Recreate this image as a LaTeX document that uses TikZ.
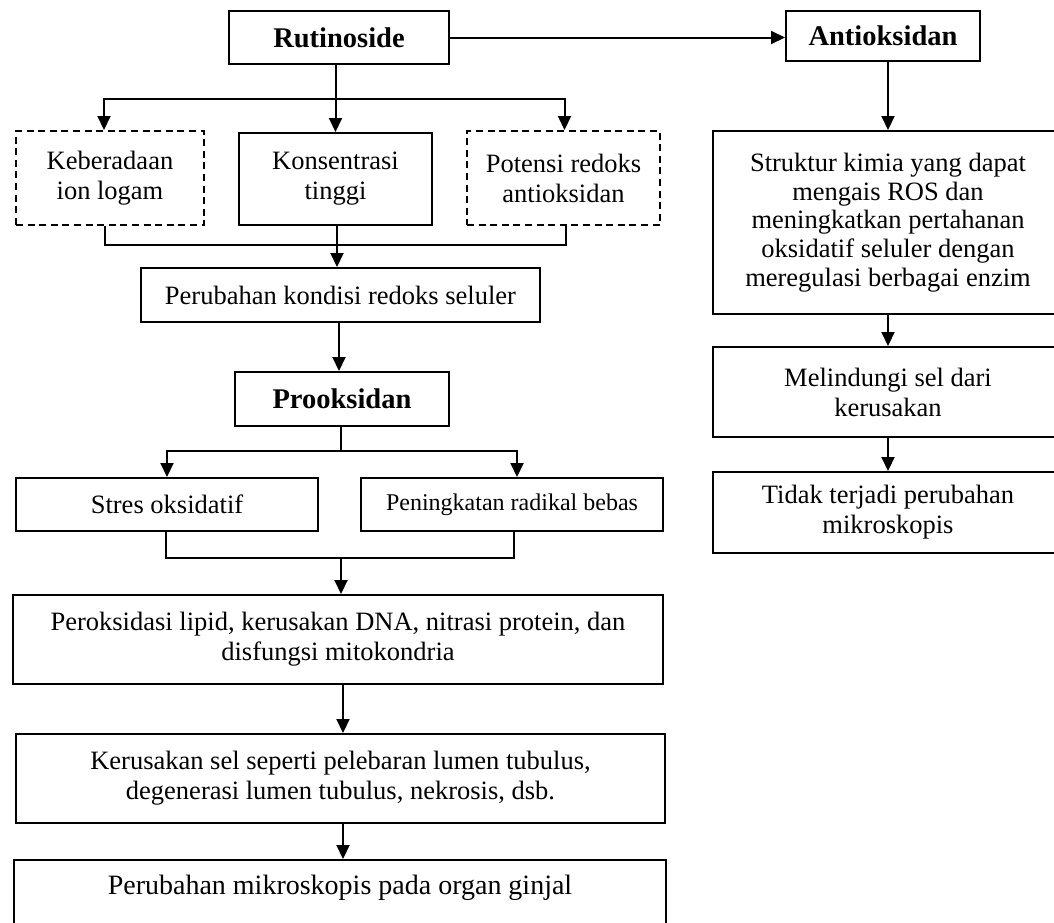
\documentclass[tikz,border=0pt]{standalone}
\usepackage{fontspec}
\setmainfont{Liberation Serif}
\usetikzlibrary{arrows.meta}
\begin{document}
\begin{tikzpicture}[x=0.5pt,y=-0.5pt,line width=1pt,
  box/.style={draw=black,fill=white,inner sep=0pt,align=center,
    font=\fontsize{13.25}{15}\selectfont},
  tbox/.style={box,font=\fontsize{14.25}{16}\selectfont\bfseries},
  dbox/.style={box,dash pattern=on 3.5pt off 2.3pt},
  arr/.style={-{Triangle[length=7pt,width=6.5pt]}}]
\useasboundingbox (0,0) rectangle (1054,922);
\clip (0,0) rectangle (1054,922);
\fill[white] (0,0) rectangle (1054,922);

% left column
\node[tbox,minimum width=110pt,minimum height=26.5pt] (rut) at (339,37.5) {Rutinoside};
\node[dbox,minimum width=94pt,minimum height=47pt] (keb) at (110,178) {Keberadaan\\ion logam};
\node[box,minimum width=96.5pt,minimum height=46pt] (kons) at (335.5,179) {Konsentrasi\\tinggi};
\node[dbox,minimum width=96.5pt,minimum height=47pt] (pot) at (563.5,178) {Potensi redoks\\antioksidan};
\node[box,minimum width=199.5pt,minimum height=27pt] (redoks) at (340.5,295) {Perubahan kondisi redoks seluler};
\node[tbox,minimum width=107pt,minimum height=27pt] (proo) at (342,399) {Prooksidan};
\node[box,minimum width=151pt,minimum height=26.5pt] (stres) at (167,504.5) {Stres oksidatif};
\node[box,minimum width=151pt,minimum height=26.5pt,font=\fontsize{12}{14}\selectfont] (pen) at (512,504.5) {Peningkatan radikal bebas};
\node[box,minimum width=325pt,minimum height=44.5pt] (perok) at (338,639.5) {Peroksidasi lipid, kerusakan DNA, nitrasi protein, dan\\disfungsi mitokondria};
\node[box,minimum width=324.5pt,minimum height=44.5pt] (kerus) at (340.5,778.5) {Kerusakan sel seperti pelebaran lumen tubulus,\\degenerasi lumen tubulus, nekrosis, dsb.};
\node[box,minimum width=326pt,minimum height=45pt] (micro) at (340,905) {};
\node[font=\fontsize{14}{16}\selectfont,inner sep=0pt] (microtext) at (340,888) {Perubahan mikroskopis pada organ ginjal};

% right column
\node[tbox,minimum width=97pt,minimum height=25pt] (anti) at (883,36) {Antioksidan};
\node[box,minimum width=175pt,minimum height=91.5pt,font=\fontsize{13.25}{14.3}\selectfont] (stru) at (888,222.5) {Struktur kimia yang dapat\\mengais ROS dan\\meningkatkan pertahanan\\oksidatif seluler dengan\\meregulasi berbagai enzim};
\node[box,minimum width=175pt,minimum height=45pt] (meli) at (888,392) {Melindungi sel dari\\kerusakan};
\node[box,minimum width=175pt,minimum height=40.5pt] (tidak) at (888,512.5) {Tidak terjadi perubahan\\mikroskopis};

\coordinate (b1) at (335.5,99);
\coordinate (m1) at (337,245);
\coordinate (b2) at (341,451);
\coordinate (m2) at (341,558);

% connectors
\draw[arr] (rut.east) -- (rut.east -| anti.west);
\draw[arr] (rut.south -| kons.north) -- (kons.north);
\draw[arr] (b1) -| ([xshift=-3pt]keb.north);
\draw[arr] (b1) -| ([xshift=0.5pt]pot.north);
\draw ([xshift=-2.5pt]keb.south) |- (m1) -| ([xshift=1pt]pot.south);
\draw[arr] (kons.south -| m1) -- (m1 |- redoks.north);
\draw[arr] (redoks.south -| 339,0) -- (339,0 |- proo.north);
\draw (proo.south -| b2) -- (b2);
\draw[arr] (b2) -| (stres.north);
\draw[arr] (b2) -| ([xshift=2.5pt]pen.north);
\draw ([xshift=-0.5pt]stres.south) |- (m2) -| ([xshift=1pt]pen.south);
\draw[arr] (m2) -- (m2 |- perok.north);
\draw[arr] (perok.south -| 343,0) -- (343,0 |- kerus.north);
\draw[arr] (kerus.south -| 343,0) -- (343,0 |- micro.north);
\draw[arr] (anti.south -| stru.north) -- (stru.north);
\draw[arr] (stru.south) -- (meli.north);
\draw[arr] (meli.south) -- (tidak.north);
\end{tikzpicture}
\end{document}
